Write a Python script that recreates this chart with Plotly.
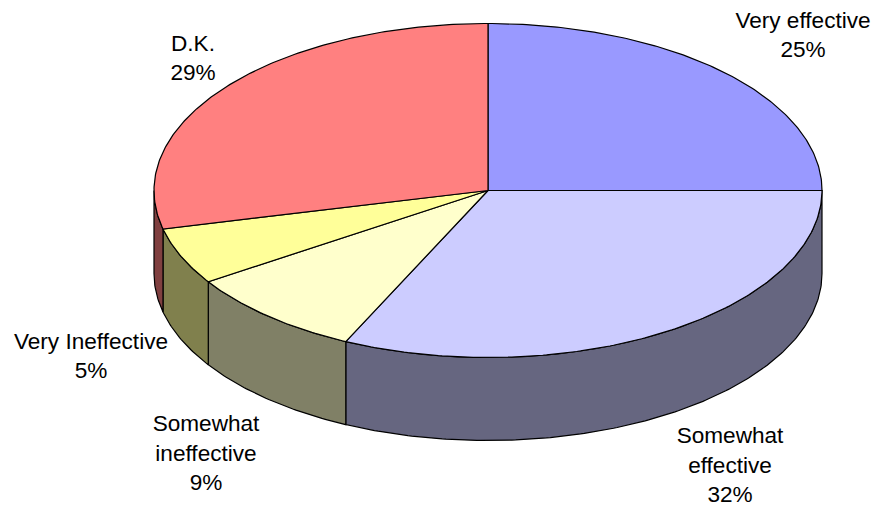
import numpy as np
import plotly.graph_objects as go

categories = ["Very effective", "Somewhat effective", "Somewhat ineffective", "Very Ineffective", "D.K."]
values = [25, 32, 8.8, 5.5, 28.7]
top_colors = ["#9999FF", "#CCCCFF", "#FFFFCC", "#FFFF99", "#FF8080"]
side_colors = ["#666680", "#666680", "#808066", "#80804D", "#804040"]
label_texts = ["Very effective<br>25%", "Somewhat<br>effective<br>32%", "Somewhat<br>ineffective<br>9%",
               "Very Ineffective<br>5%", "D.K.<br>29%"]
label_x = [803, 730, 206, 91, 193]
label_y = [37, 467, 455, 358, 60]

CX, CY, RX, RY, DEPTH = 488.0, 190.5, 334.0, 167.0, 83.0


def rim(a, b, n=None):
    n = n or max(2, int(abs(b - a) * 1.5) + 2)
    t = np.radians(np.linspace(a, b, n))
    return CX + RX * np.sin(t), CY - RY * np.cos(t)


fig = go.Figure()
edges = np.cumsum([0] + values) / sum(values) * 360.0
line = dict(color="#000000", width=1.2)

# Side walls (only the front half, 90 to 270 degrees, is visible)
for i in range(len(values)):
    a, b = max(edges[i], 90.0), min(edges[i + 1], 270.0)
    if b <= a:
        continue
    x, y = rim(a, b)
    fig.add_trace(go.Scatter(
        x=np.r_[x, x[::-1], x[0]], y=np.r_[y, y[::-1] + DEPTH, y[0]],
        mode="lines", fill="toself", fillcolor=side_colors[i], line=line,
        hoverinfo="skip", showlegend=False))

# Top slices
for i in range(len(values)):
    x, y = rim(edges[i], edges[i + 1])
    fig.add_trace(go.Scatter(
        x=np.r_[CX, x, CX], y=np.r_[CY, y, CY],
        mode="lines", fill="toself", fillcolor=top_colors[i], line=line,
        name=categories[i], hoverinfo="name", showlegend=False))

# Labels
fig.add_trace(go.Scatter(
    x=label_x, y=label_y, mode="text", text=label_texts, textposition="middle center",
    textfont=dict(family="Liberation Sans, Arial, sans-serif", size=22.6, color="#000000"),
    hoverinfo="skip", showlegend=False, cliponaxis=False))

fig.update_layout(
    width=875, height=506, autosize=False,
    margin=dict(l=0, r=0, t=0, b=0),
    paper_bgcolor="#FFFFFF", plot_bgcolor="#FFFFFF",
    xaxis=dict(range=[0, 875], visible=False, fixedrange=True),
    yaxis=dict(range=[506, 0], visible=False, fixedrange=True),
)
fig.write_html("out.html", config={"displayModeBar": False},
               post_script="document.body.style.margin='0';document.documentElement.style.overflow='hidden';")
